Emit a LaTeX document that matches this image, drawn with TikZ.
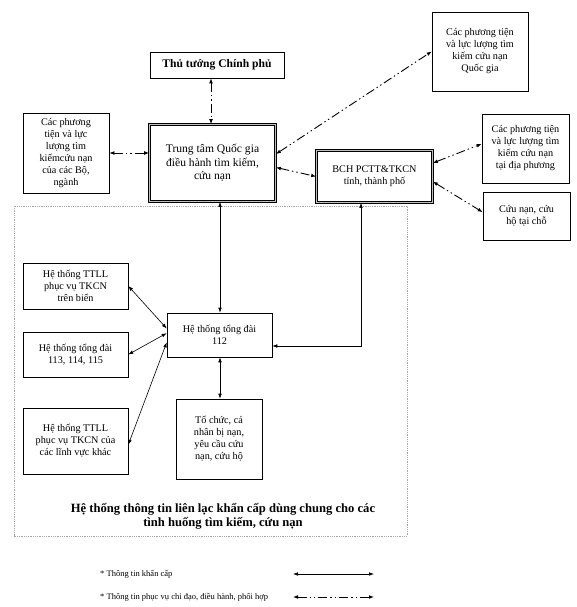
\documentclass[tikz,border=0pt]{standalone}
\usepackage{fontspec}
\setmainfont{Liberation Serif}
\usetikzlibrary{arrows.meta}
\begin{document}
\begin{tikzpicture}[x=1pt,y=-1pt,
  box/.style={draw, line width=0.6pt, align=center, inner sep=1pt, font=\fontsize{10.2}{12}\selectfont},
  dbox/.style={box, double=gray!50, double distance=1.8pt, line width=0.7pt},
  emerg/.style={line width=0.6pt, {Latex[length=5pt,width=3.6pt]}-{Latex[length=5pt,width=3.6pt]}},
  coord/.style={line width=0.9pt, dash pattern=on 9pt off 3pt on 1.4pt off 3pt on 1.4pt off 3pt, {Latex[length=5pt,width=3.8pt]}-{Latex[length=5pt,width=3.8pt]}},
  outerbox/.style={draw=gray!70, line width=0.7pt, dash pattern=on 1pt off 0.8pt},
  legend/.style={anchor=west, inner sep=0pt, font=\fontsize{8.5}{10}\selectfont}
]
\useasboundingbox (0,0) rectangle (576,607);
\fill[white] (0,0) rectangle (576,607);

% outer dotted frame
\draw[outerbox] (14,206) rectangle (407,536);

% nodes
\node[box, minimum width=134pt, minimum height=26pt, font=\fontsize{11.6}{13}\selectfont\bfseries] (tt0) at (217,65) {Thủ tướng Chính phủ};
\node[box, minimum width=86pt, minimum height=80pt] (bo) at (66,153) {Các phương\\tiện và lực\\lượng tìm\\kiếmcứu nạn\\của các Bộ,\\ngành};
\node[dbox, minimum width=126pt, minimum height=77pt, font=\fontsize{11.6}{13.3}\selectfont] (tt) at (212.5,163) {Trung tâm Quốc gia\\điều hành tìm kiếm,\\cứu nạn};
\node[box, minimum width=96pt, minimum height=79pt] (qg) at (480,51.5) {Các phương tiện\\và lực lượng tìm\\kiếm cứu nạn\\Quốc gia};
\node[dbox, minimum width=116pt, minimum height=52pt] (bch) at (374.5,176.5) {BCH PCTT\&TKCN\\tỉnh, thành phố};
\node[box, minimum width=87pt, minimum height=69pt] (dp) at (525.5,148.5) {Các phương tiện\\và lực lượng tìm\\kiếm cứu nạn\\tại địa phương};
\node[box, minimum width=87pt, minimum height=48pt] (cn) at (526.5,216) {Cứu nạn, cứu\\hộ tại chỗ};

\node[box, minimum width=105pt, minimum height=46pt] (bien) at (75.5,286) {Hệ thống TTLL\\phục vụ TKCN\\trên biển};
\node[box, minimum width=105pt, minimum height=45pt] (t113) at (75.5,354.5) {Hệ thống tổng đài\\113, 114, 115};
\node[box, minimum width=105pt, minimum height=44pt] (t112) at (219.5,335) {Hệ thống tổng đài\\112};
\node[box, minimum width=105pt, minimum height=66pt] (khac) at (75.5,441) {Hệ thống TTLL\\phục vụ TKCN của\\các lĩnh vực khác};
\node[box, minimum width=86pt, minimum height=80pt] (tochuc) at (219,439) {Tổ chức, cá\\nhân bị nạn,\\yêu cầu cứu\\nạn, cứu hộ};

\node[align=center, inner sep=0pt, font=\fontsize{12.6}{14}\selectfont\bfseries] (title) at (223,516) {Hệ thống thông tin liên lạc khẩn cấp dùng chung cho các\\tình huống tìm kiếm, cứu nạn};

% coordination connectors (dash-dot-dot)
\coordinate (c2) at (211,0);
\draw[coord] (tt0.south -| c2) -- (tt.north -| c2);
\draw[coord] (bo.east) -- (bo.east -| tt.west);
\draw[coord] (tt.8) -- (qg.west);
\draw[coord] (tt.-4) -- (bch.west);
\draw[coord] (bch.13) -- (dp.174);
\draw[coord] (bch.-5) -- (cn.175);

% emergency connectors (solid)
\coordinate (c0) at (220,0);
\draw[emerg] (tt.south -| c0) -- (t112.north -| c0);
\draw[emerg] (t112.south -| c0) -- (tochuc.north -| c0);
\coordinate (c1) at (361,346);
\draw[emerg] (bch.south -| c1) -- (c1) -- (t112.east |- c1);
\draw[emerg] (bien.east) -- (t112.173);
\draw[emerg] (t113.east) -- (t112.178);
\draw[emerg] (khac.-4) -- (t112.188);

% legend
\node[legend] (lg1) at (100,574) {* Thông tin khẩn cấp};
\node[legend] (lg2) at (100,597) {* Thông tin phục vụ chỉ đạo, điều hành, phối hợp};
\coordinate (l1a) at (293,574); \coordinate (l1b) at (374,574);
\coordinate (l2a) at (293,597); \coordinate (l2b) at (374,597);
\draw[emerg] (l1a) -- (l1b);
\draw[coord] (l2a) -- (l2b);
\end{tikzpicture}
\end{document}
